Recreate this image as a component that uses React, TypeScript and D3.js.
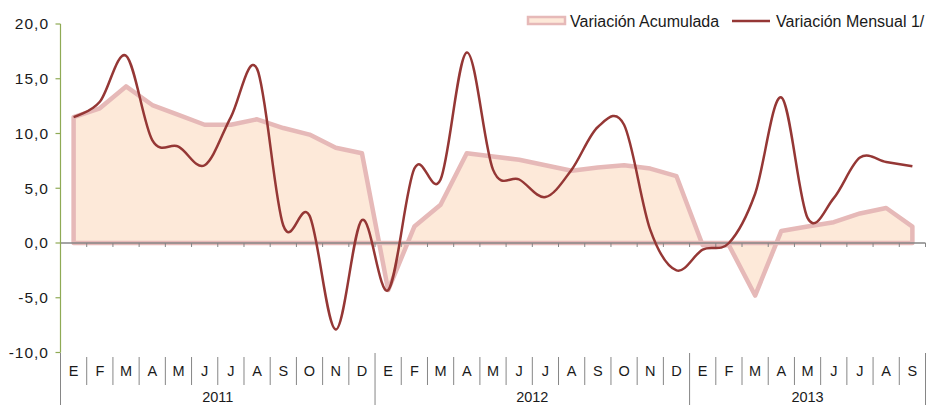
import React from "react";
import * as d3 from "d3";

const months = ["E","F","M","A","M","J","J","A","S","O","N","D","E","F","M","A","M","J","J","A","S","O","N","D","E","F","M","A","M","J","J","A","S"];
const years = ["2011", "2012", "2013"];
const yearSpans = [12, 12, 9];
const acumulada = [11.5,12.3,14.3,12.6,11.7,10.8,10.8,11.3,10.5,9.9,8.7,8.2, -4.3,1.5,3.5,8.2,7.9,7.6,7.1,6.6,6.9,7.1,6.8,6.1, -0.2,-0.2,-4.8,1.1,1.5,1.9,2.7,3.2,1.5];
const mensual = [11.5,12.9,17.1,9.4,8.8,7.1,11.5,15.9,1.6,2.5,-7.9,2.1, -4.3,6.8,5.8,17.4,6.7,5.8,4.2,6.7,10.6,10.8,1.2,-2.5, -0.6,0.0,4.5,13.3,2.3,4.1,7.8,7.4,7.0];
const yTicks = [-10,-5,0,5,10,15,20];
const seriesNames = ["Variación Acumulada", "Variación Mensual 1/"];

export default function App() {
  const W = 927, H = 405;
  const left = 60.5, right = 925.5;
  const x = d3.scaleBand<number>().domain(months.map((_, i) => i)).range([left, right]);
  const bw = x.bandwidth();
  const cx = (i: number) => (x(i) as number) + bw / 2;
  const y = d3.scaleLinear().domain([-10, 20]).range([352.5, 24]);
  const fmt = (v: number) => v.toFixed(1).replace(".", ",");

  const area = d3.area<number>().x((_, i) => cx(i)).y0(y(0)).y1(d => y(d));
  const line = d3.line<number>().x((_, i) => cx(i)).y(d => y(d)).curve(d3.curveCardinal.tension(0));
  const areaPath = area(acumulada) + "";
  const outline = "M" + cx(0) + "," + y(0) + "L" + acumulada.map((d, i) => cx(i) + "," + y(d)).join("L") + "L" + cx(acumulada.length - 1) + "," + y(0) + "Z";

  const font = "'Liberation Sans', Arial, sans-serif";
  const gray = "#868686";
  const green = "#8FAA55";
  const txt = "#1a1a1a";
  let acc = 0;
  const yearBounds = yearSpans.map(s => { const a = acc; acc += s; return [a, acc]; });

  return (
    <svg width={W} height={H} style={{ position: "absolute", left: 0, top: 0, display: "block" }} fontFamily={font}>
      <rect width={W} height={H} fill="#fff" />
      <path d={areaPath} fill="#FDE9D9" />
      <path d={outline} fill="none" stroke="#E6B9B8" strokeWidth={4.5} strokeLinejoin="round" />
      <line x1={left} x2={right} y1={y(0)} y2={y(0)} stroke={gray} strokeWidth={1.5} />
      {d3.range(1, months.length + 1).map(i => (
        <line key={"t" + i} x1={left + i * bw} x2={left + i * bw} y1={y(0)} y2={y(0) + 4} stroke={gray} strokeWidth={1} />
      ))}
      <path d={line(mensual) + ""} fill="none" stroke="#953735" strokeWidth={2.5} />
      <line x1={left} x2={left} y1={y(20)} y2={y(-10)} stroke={green} strokeWidth={1.2} />
      {yTicks.map(t => (
        <g key={"y" + t}>
          <line x1={left - 5} x2={left} y1={y(t)} y2={y(t)} stroke={green} strokeWidth={1.2} />
          <text x={49} y={y(t)} dy="0.35em" textAnchor="end" fontSize={15.5} letterSpacing={1} fill={txt}>{fmt(t)}</text>
        </g>
      ))}
      {months.map((m, i) => (
        <text key={"m" + i} x={cx(i)} y={371} dy="0.35em" textAnchor="middle" fontSize={14.5} fill={txt}>{m}</text>
      ))}
      {d3.range(1, months.length).filter(i => !yearBounds.some(b => b[1] === i)).map(i => (
        <line key={"s" + i} x1={left + i * bw} x2={left + i * bw} y1={357} y2={385} stroke={gray} strokeWidth={1} />
      ))}
      {[0, ...yearBounds.map(b => b[1])].map((i, k) => (
        <line key={"ys" + k} x1={left + i * bw} x2={left + i * bw} y1={353} y2={H} stroke={gray} strokeWidth={1} />
      ))}
      {years.map((yr, k) => (
        <text key={yr} x={(cx(yearBounds[k][0]) + cx(yearBounds[k][1] - 1)) / 2} y={397} dy="0.35em" textAnchor="middle" fontSize={14.5} fill={txt}>{yr}</text>
      ))}
      <rect x={528} y={17} width={37} height={7} fill="#FDE9D9" stroke="#E6B9B8" strokeWidth={2.5} />
      <text x={570} y={21} dy="0.35em" fontSize={16} fill={txt}>{seriesNames[0]}</text>
      <line x1={732} x2={770} y1={21} y2={21} stroke="#953735" strokeWidth={2.5} />
      <text x={776} y={21} dy="0.35em" fontSize={16} fill={txt}>{seriesNames[1]}</text>
    </svg>
  );
}
